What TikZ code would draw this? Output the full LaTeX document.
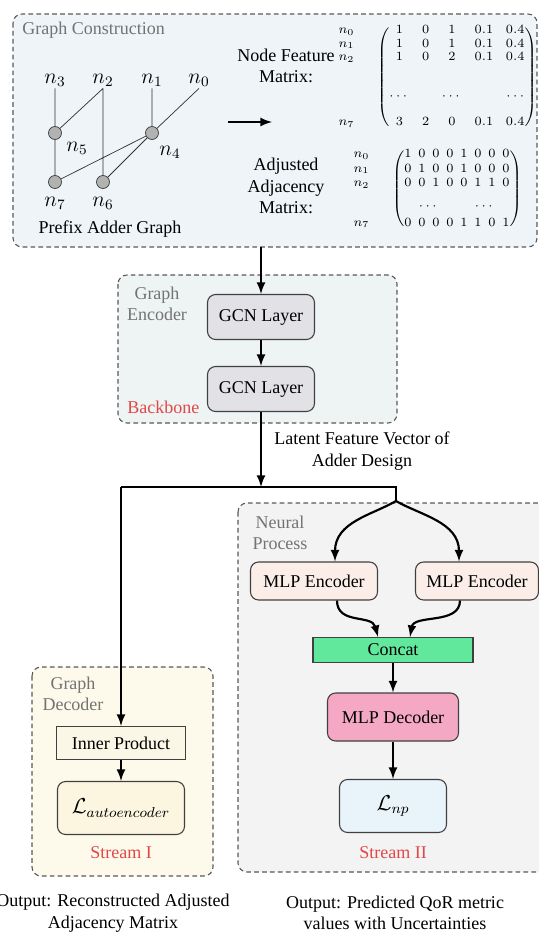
\documentclass[tikz,border=0pt]{standalone}
\usepackage{amsmath}
\usepackage{fontspec}
\setmainfont{Liberation Serif}
\usepackage{tikz}
\newlength\pxu
\setlength\pxu{0.5556pt}
\definecolor{cstfill}{HTML}{EEF4F8}
\definecolor{encfill}{HTML}{EDF4F3}
\definecolor{gcnfill}{HTML}{E2E1E6}
\definecolor{npfill}{HTML}{F3F3F3}
\definecolor{mlpfill}{HTML}{FBEEE9}
\definecolor{catfill}{HTML}{62E89C}
\definecolor{decfill}{HTML}{F5A8C3}
\definecolor{lnpfill}{HTML}{E9F3FA}
\definecolor{gdfill}{HTML}{FDF9EB}
\definecolor{ipfill}{HTML}{FBF7E6}
\definecolor{lafill}{HTML}{FCF6E1}
\definecolor{redtxt}{HTML}{E04848}

\begin{document}
\begin{tikzpicture}[x=1\pxu,y=-1\pxu,
grp/.style={draw=black!65,dash pattern=on 2.6pt off 1.8pt,line width=0.6pt,rounded corners=5pt,fill=#1},
blk/.style n args={3}{draw=black!75,line width=0.6pt,rounded corners=4.5pt,fill=#1,minimum width=#2\pxu,minimum height=#3\pxu,inner sep=1pt},
sqb/.style n args={3}{blk={#1}{#2}{#3},sharp corners},
ttl/.style={text=black!55,align=center},
flow/.style={very thick,-latex},
vtx/.style={circle,draw=black!75,fill=black!30,minimum size=13\pxu,inner sep=0pt},
lbl/.style={font=\large,inner sep=1pt}]
\useasboundingbox (0,0) rectangle (539,938);

% group boxes
\draw[grp=cstfill] (13,14) rectangle (537,247);
\draw[grp=encfill] (118,275) rectangle (397,423);
\draw[grp=npfill] (238,503) rectangle (552,872);
\draw[grp=gdfill] (32,667) rectangle (213,876);
\node[ttl,anchor=west] (cstttl) at (16,30) {Graph Construction};
\node[ttl] (encttl) at (157,304) {Graph\\Encoder};
\node[anchor=west,text=redtxt] (bbttl) at (121,407) {Backbone};
\node[ttl] (npttl) at (280,533) {Neural\\Process};
\node[ttl] (gdttl) at (73,694) {Graph\\Decoder};
\node[text=redtxt] (str1) at (121,853) {Stream I};
\node[text=redtxt] (str2) at (393,853) {Stream II};

% prefix adder graph
\foreach \x/\i in {55/3,103/2,152/1,199/0} {
   \node[lbl] (n\i) at (\x,80) {$n_{\i}$};
}
\foreach \x/\y/\i in {55/133/5,152/133/4,55/182/7,103/182/6} {
   \node[vtx] (v\i) at (\x,\y) {};
}
\foreach \x/\y/\i in {77/148/5,170/152/4,55/203/7,103/203/6} {
   \node[lbl] (t\i) at (\x,\y) {$n_{\i}$};
}
\draw[black!80] (n3) -- (v5) (n2.south) -- (v5) (n2.south) -- (v6) (n1) -- (v4)
   (n0.south) -- (v4) (v5) -- (v7) (v4) -- (v7) (v4) -- (v6);
\node (pag) at (110,229) {Prefix Adder Graph};
\coordinate (ga) at (228,122);
\coordinate (gb) at (272,122);
\draw[flow] (ga) -- (gb);

% matrices
\node[align=center] (nfm) at (286,66) {Node Feature\\Matrix:};
\node[align=center] (aam) at (286,186) {Adjusted\\Adjacency\\Matrix:};
\node[font=\scriptsize,inner sep=0pt] (fmat) at (457,77)
   {$\arraycolsep=3.5pt\def\arraystretch{0.95}\begin{pmatrix}1&0&1&0.1&0.4\\1&0&1&0.1&0.4\\1&0&2&0.1&0.4\\[14pt]\cdots&&\cdots&&\cdots\\[7pt]3&2&0&0.1&0.4\end{pmatrix}$};
\node[font=\scriptsize,inner sep=0pt,anchor=base east] (frow) at ([xshift=-12pt]fmat.base west)
   {$\def\arraystretch{0.95}\begin{matrix}n_0\\n_1\\n_2\\[14pt]\\[7pt]n_7\end{matrix}$};
\node[font=\scriptsize,inner sep=0pt] (amat) at (457,189)
   {$\arraycolsep=1.9pt\begin{pmatrix}1&0&0&0&1&0&0&0\\0&1&0&0&1&0&0&0\\0&0&1&0&0&1&1&0\\[5pt]\multicolumn{4}{c}{\cdots}&\multicolumn{4}{c}{\cdots}\\[1pt]0&0&0&0&1&1&0&1\end{pmatrix}$};
\node[font=\scriptsize,inner sep=0pt,anchor=base east] (arow) at ([xshift=-12pt]amat.base west)
   {$\begin{matrix}n_0\\n_1\\n_2\\[5pt]\\[1pt]n_7\end{matrix}$};

% encoder
\coordinate (cst) at (261,247);
\node[blk={gcnfill}{107}{45}] (gcn1) at (261,317) {GCN Layer};
\node[blk={gcnfill}{107}{45}] (gcn2) at (261,389) {GCN Layer};
\draw[flow] (cst) -- (gcn1);
\draw[flow] (gcn1) -- (gcn2);
\node[align=center] (lat) at (362,451) {Latent Feature Vector of\\Adder Design};
\coordinate (jm) at (261,487);
\coordinate (jl) at (121,487);
\coordinate (jr) at (396,487);
\coordinate (sp) at (396,501);
\draw[flow] (gcn2) -- (jm);
\draw[very thick] (jl) -- (jr) -- (sp);

% neural process
\node[blk={mlpfill}{127}{38}] (enc1) at (314,581) {MLP Encoder};
\node[blk={mlpfill}{123}{38}] (enc2) at (477,581) {MLP Encoder};
\draw[flow] (sp) .. controls (372,515) and (335,522) .. ([xshift=21\pxu]enc1.north);
\draw[flow] (sp) .. controls (420,515) and (459,522) .. ([xshift=-18\pxu]enc2.north);
\node[sqb={catfill}{160}{25}] (cat) at (393,650) {Concat};
\draw[flow] ([xshift=23\pxu]enc1.south) .. controls (337,625) and (372,614) .. ([xshift=-15\pxu]cat.north);
\draw[flow] ([xshift=-17\pxu]enc2.south) .. controls (460,625) and (414,614) .. ([xshift=17\pxu]cat.north);
\node[blk={decfill}{131}{48}] (dec) at (393,717) {MLP Decoder};
\node[blk={lnpfill}{107}{53},font=\large] (lnp) at (393,806) {$\mathcal{L}_{np}$};
\draw[flow] (cat) -- (dec);
\draw[flow] (dec) -- (lnp);

% graph decoder
\node[sqb={ipfill}{129}{33}] (ip) at (121,743) {Inner Product};
\node[blk={lafill}{127}{53},font=\large] (lae) at (121,808) {$\mathcal{L}_{autoencoder}$};
\draw[flow] (jl) -- (ip);
\draw[flow] (ip) -- (lae);

\node[align=center] (out1) at (113,913) {Output: Reconstructed Adjusted\\Adjacency Matrix};
\node[align=center] (out2) at (395,913) {Output: Predicted QoR metric\\values with Uncertainties};
\end{tikzpicture}
\end{document}
